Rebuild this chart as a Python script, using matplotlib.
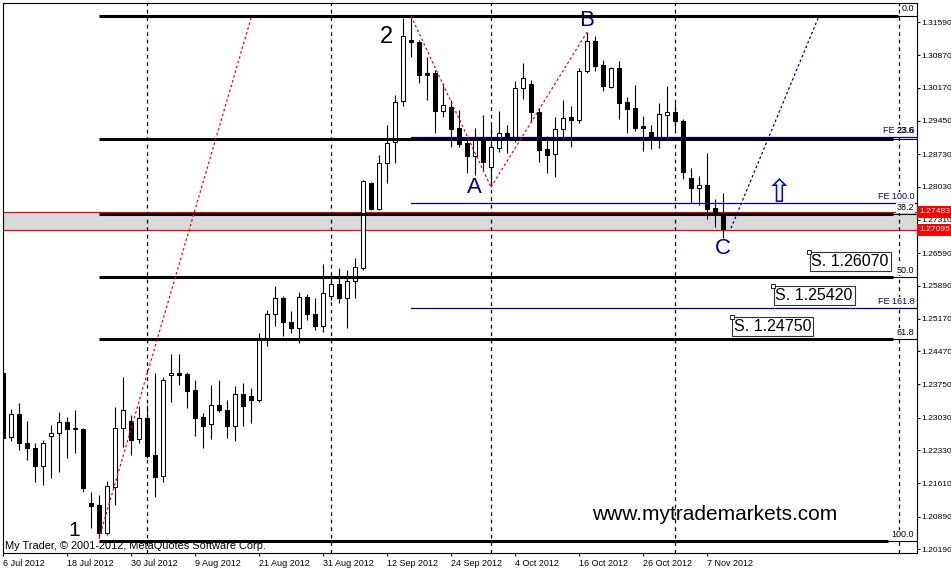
import matplotlib.pyplot as plt
import matplotlib.transforms as mtransforms
import numpy as np

plt.rcParams['font.family'] = ['Liberation Sans', 'DejaVu Sans']

# EURUSD daily bars, 6 Jul 2012 .. 9 Nov 2012
opens = [1.2400, 1.2261, 1.2311, 1.2248, 1.2237, 1.2199, 1.2263, 1.2270, 1.2294, 1.2280,
         1.2279, 1.2119, 1.2114, 1.2054, 1.2153, 1.2281, 1.2296, 1.2257, 1.2302, 1.2222,
         1.2177, 1.2395, 1.2400, 1.2398, 1.2363, 1.2305, 1.2289, 1.2331, 1.2320, 1.2285,
         1.2354, 1.2350, 1.2341, 1.2471, 1.2527, 1.2562, 1.2510, 1.2497, 1.2564, 1.2527,
         1.2501, 1.2566, 1.2592, 1.2562, 1.2599, 1.2627, 1.2811, 1.2755, 1.2854, 1.2899,
         1.2988, 1.3120, 1.3116, 1.3049, 1.3049, 1.2966, 1.2975, 1.2930, 1.2897, 1.2869,
         1.2910, 1.2845, 1.2886, 1.2919, 1.2910, 1.3016, 1.3025, 1.2964, 1.2884, 1.2873,
         1.2928, 1.2954, 1.2947, 1.3053, 1.3118, 1.3066, 1.3018, 1.3060, 1.2986, 1.2973,
         1.2934, 1.2921, 1.2910, 1.2958, 1.2964, 1.2945, 1.2822, 1.2800, 1.2806, 1.2757,
         1.2744]
highs = [1.2406, 1.2322, 1.2335, 1.2296, 1.2248, 1.2255, 1.2287, 1.2315, 1.2305, 1.2320,
         1.2281, 1.2142, 1.2136, 1.2166, 1.2326, 1.2391, 1.2309, 1.2328, 1.2331, 1.2400,
         1.2391, 1.2441, 1.2441, 1.2402, 1.2385, 1.2313, 1.2374, 1.2385, 1.2341, 1.2372,
         1.2378, 1.2367, 1.2486, 1.2536, 1.2588, 1.2566, 1.2534, 1.2575, 1.2571, 1.2562,
         1.2636, 1.2607, 1.2627, 1.2623, 1.2649, 1.2817, 1.2813, 1.2871, 1.2936, 1.3001,
         1.3168, 1.3172, 1.3120, 1.3083, 1.3055, 1.3027, 1.2990, 1.2969, 1.2910, 1.2930,
         1.2958, 1.2941, 1.2966, 1.2936, 1.3031, 1.3070, 1.3034, 1.2973, 1.2912, 1.2954,
         1.2990, 1.2977, 1.3060, 1.3137, 1.3129, 1.3077, 1.3062, 1.3075, 1.2997, 1.3023,
         1.2956, 1.2936, 1.2984, 1.3021, 1.2984, 1.2949, 1.2843, 1.2826, 1.2876, 1.2776,
         1.2789]
lows = [1.2255, 1.2253, 1.2233, 1.2212, 1.2164, 1.2157, 1.2173, 1.2186, 1.2216, 1.2227,
        1.2142, 1.2064, 1.2042, 1.2049, 1.2114, 1.2240, 1.2222, 1.2248, 1.2216, 1.2132,
        1.2164, 1.2337, 1.2374, 1.2324, 1.2263, 1.2237, 1.2257, 1.2315, 1.2259, 1.2253,
        1.2285, 1.2292, 1.2337, 1.2458, 1.2501, 1.2480, 1.2486, 1.2465, 1.2514, 1.2493,
        1.2488, 1.2558, 1.2551, 1.2497, 1.2562, 1.2623, 1.2752, 1.2752, 1.2811, 1.2854,
        1.2977, 1.3083, 1.3027, 1.2990, 1.2919, 1.2954, 1.2889, 1.2889, 1.2832, 1.2828,
        1.2839, 1.2802, 1.2878, 1.2876, 1.2899, 1.2992, 1.2943, 1.2856, 1.2832, 1.2824,
        1.2910, 1.2889, 1.2941, 1.3049, 1.3053, 1.3010, 1.3016, 1.2949, 1.2919, 1.2923,
        1.2880, 1.2884, 1.2886, 1.2908, 1.2921, 1.2819, 1.2767, 1.2763, 1.2733, 1.2716,
        1.2692]
closes = [1.2259, 1.2311, 1.2248, 1.2237, 1.2199, 1.2248, 1.2270, 1.2294, 1.2279, 1.2278,
          1.2151, 1.2112, 1.2054, 1.2155, 1.2281, 1.2320, 1.2255, 1.2302, 1.2220, 1.2175,
          1.2385, 1.2400, 1.2395, 1.2361, 1.2302, 1.2285, 1.2331, 1.2320, 1.2285, 1.2354,
          1.2328, 1.2341, 1.2473, 1.2527, 1.2562, 1.2510, 1.2497, 1.2564, 1.2527, 1.2501,
          1.2573, 1.2592, 1.2562, 1.2599, 1.2629, 1.2815, 1.2755, 1.2854, 1.2897, 1.2986,
          1.3129, 1.3116, 1.3044, 1.3044, 1.2966, 1.2979, 1.2928, 1.2895, 1.2869, 1.2910,
          1.2856, 1.2889, 1.2919, 1.2904, 1.3016, 1.3038, 1.2964, 1.2882, 1.2871, 1.2928,
          1.2951, 1.2947, 1.3053, 1.3118, 1.3064, 1.3021, 1.3060, 1.2984, 1.2971, 1.2930,
          1.2930, 1.2910, 1.2960, 1.2964, 1.2945, 1.2835, 1.2800, 1.2806, 1.2755, 1.2746,
          1.2711]

date_labels = ['6 Jul 2012', '18 Jul 2012', '30 Jul 2012', '9 Aug 2012', '21 Aug 2012',
               '31 Aug 2012', '12 Sep 2012', '24 Sep 2012', '4 Oct 2012', '16 Oct 2012',
               '26 Oct 2012', '7 Nov 2012']
date_bars = [0, 8, 16, 24, 32, 40, 48, 56, 64, 72, 80, 88]
month_seps = [18, 41, 61, 84, 112]

price_ticks = [1.31590, 1.30870, 1.30170, 1.29450, 1.28730, 1.28030, 1.27310, 1.26590,
               1.25890, 1.25170, 1.24470, 1.23750, 1.23030, 1.22330, 1.21610, 1.20890, 1.20190]

fib_names = ['0.0', '23.6', '38.2', '50.0', '61.8', '100.0']
fib_prices = [1.3173, 1.2906, 1.2743, 1.2608, 1.2473, 1.2036]
fe_names = ['FE 23.6', 'FE 100.0', 'FE 161.8']
fe_prices = [1.2911, 1.2767, 1.2540]
zone_prices = [1.27095, 1.27483]
support_names = ['S. 1.26070', 'S. 1.25420', 'S. 1.24750']

navy = '#000080'

fig = plt.figure(figsize=(9.51, 5.70), dpi=100)
ax = fig.add_axes([2.7 / 951, 17 / 570, 914.3 / 951, 550.3 / 570])
ax.set_xlim(-0.04, 114.25)
ax.set_ylim(1.20104, 1.32008)

# zone and its lines
ax.axhspan(zone_prices[0], zone_prices[1], color='#D9D9D9', zorder=0.5, lw=0)
for p in zone_prices:
    ax.axhline(p, color='red', lw=0.9, zorder=1)

# month separators
for s in month_seps:
    ax.axvline(s, color='black', lw=0.9, ls=(0, (3, 3)), zorder=1)

# candles
x = np.arange(len(opens))
o = np.array(opens); h = np.array(highs); l = np.array(lows); c = np.array(closes)
ax.vlines(x, l, h, color='black', lw=0.8, zorder=2)
up = c >= o
body = np.maximum(np.abs(c - o), 0.00005)
ax.bar(x[up], body[up], bottom=np.minimum(o, c)[up], width=0.5, color='white',
       edgecolor='black', lw=0.75, zorder=3)
ax.bar(x[~up], body[~up], bottom=np.minimum(o, c)[~up], width=0.5, color='black',
       edgecolor='black', lw=0.75, zorder=3)

# fibonacci expansion levels (drawn first, retracement labels sit on top)
for name, p in zip(fe_names, fe_prices):
    ax.plot([51, 114.25], [p, p], color=navy, lw=0.9, zorder=4.5)
    ax.annotate(name, (113.9, p), xytext=(0, 1.5), textcoords='offset points',
                ha='right', va='bottom', fontsize=6.5, color=navy, zorder=6,
                bbox=dict(fc='white', ec='none', pad=0.3))

# fibonacci retracement levels
ends = [111.9, 111.25, 111.25, 111.25, 111.25, 110.6]
for name, p, e in zip(fib_names, fib_prices, ends):
    ax.plot([12, e], [p, p], color='black', lw=2.2, zorder=4, solid_capstyle='butt')
    ax.plot([e, 114.25], [p, p], color='black', lw=0.8, zorder=4)
    if name == '23.6':
        # this label is printed over the "FE 23.6" one
        ax.annotate(name, (113.9, fe_prices[0]), xytext=(0, 1.5), textcoords='offset points',
                    ha='right', va='bottom', fontsize=6.5, color='black', zorder=6.5)
    else:
        ax.annotate(name, (113.9, p), xytext=(0, 1.5), textcoords='offset points',
                    ha='right', va='bottom', fontsize=6.5, color='black', zorder=6.5,
                    bbox=dict(fc='white', ec='none', pad=0.3))

# wave lines
dot = (0, (2, 2))
ax.plot([12, 31.1], [1.2042, 1.3173], color='red', lw=0.9, ls=dot, zorder=5)
ax.plot([51, 61], [1.3172, 1.2802], color='red', lw=0.9, ls=dot, zorder=5)
ax.plot([61, 73], [1.2802, 1.3137], color='red', lw=0.9, ls=dot, zorder=5)
ax.plot([91, 102], [1.2713, 1.3172], color=navy, lw=0.9, ls=dot, zorder=5)

# wave labels
ax.text(8.9, 1.2059, '1', fontsize=15, ha='center', va='center', color='black')
ax.text(47.9, 1.3127, '2', fontsize=17, ha='center', va='center', color='black')
ax.text(58.9, 1.2800, 'A', fontsize=16, ha='center', va='center', color=navy)
ax.text(73, 1.3162, 'B', fontsize=16, ha='center', va='center', color=navy)
ax.text(90, 1.2669, 'C', fontsize=16, ha='center', va='center', color=navy)
ax.text(97, 1.2789, '\u21e7', fontsize=23, ha='center', va='center', color='#0000FF',
        family='DejaVu Sans')

# support labels
anchors = [(100.8, 1.2662), (96.3, 1.2589), (91.1, 1.2521)]
for name, (ax_, ay) in zip(support_names, anchors):
    ax.plot(ax_, ay, marker='s', ms=2.5, mfc='white', mec='black', mew=0.6, zorder=7)
    ax.annotate(name, (ax_, ay), xytext=(1.5, -1.5), textcoords='offset points',
                ha='left', va='top', fontsize=11.5, color='black', zorder=6,
                bbox=dict(boxstyle='square,pad=0.12', fc='white', ec='#333333', lw=0.8))

ax.text(88.9, 1.2082, 'www.mytrademarkets.com', fontsize=15, ha='center',
        va='baseline', color='black')
ax.text(0.003, 0.008, 'My Trader, \u00a9 2001-2012, MetaQuotes Software Corp.',
        transform=ax.transAxes, fontsize=7.9, ha='left', va='baseline', color='black')

# axes
ax.yaxis.tick_right()
ax.set_yticks(price_ticks)
ax.set_yticklabels(['%.5f' % t for t in price_ticks])
ax.set_xticks(date_bars)
ax.set_xticklabels(date_labels)
for lab in ax.get_xticklabels():
    lab.set_horizontalalignment('left')
ax.tick_params(axis='both', length=2.5, width=0.8, labelsize=6.5, colors='black')
ax.tick_params(axis='y', pad=0.6, labelsize=6.1)
ax.tick_params(axis='x', pad=1.5)
for sp in ax.spines.values():
    sp.set_linewidth(0.8)
    sp.set_color('black')

# price labels for the zone lines
tr = mtransforms.blended_transform_factory(ax.transAxes, ax.transData)
for p, txt in zip(zone_prices, ['1.27095', '1.27483']):
    ax.text(1.0025, p, txt, transform=tr, ha='left', va='center', fontsize=6.1,
            color='white', clip_on=False, zorder=10,
            bbox=dict(boxstyle='square,pad=0.3', fc='red', ec='none'))

fig.savefig('out.png', dpi=100)
